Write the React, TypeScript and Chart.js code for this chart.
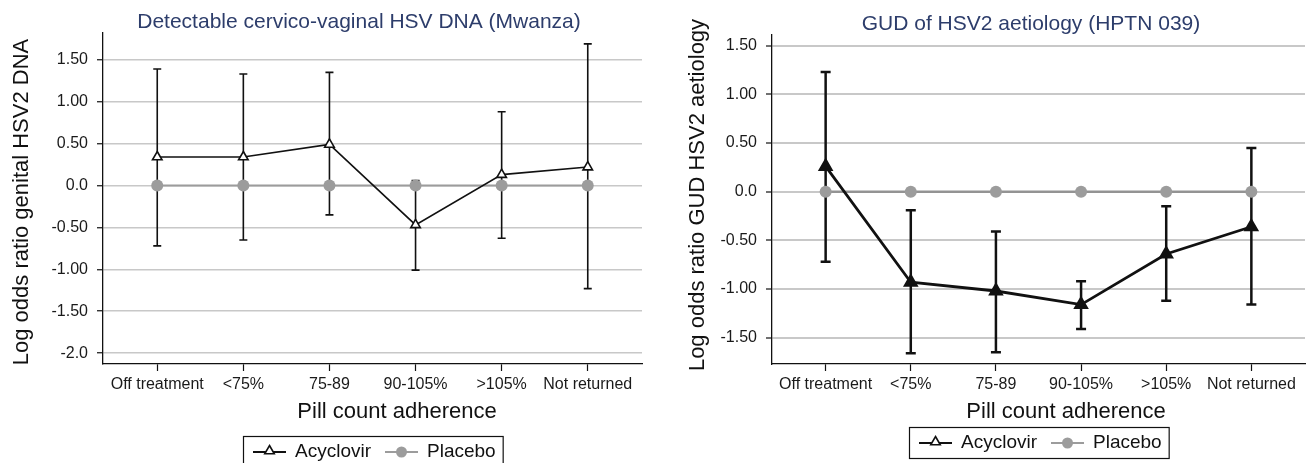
import { useEffect, useRef } from 'react';
import { Chart, registerables } from 'chart.js';

Chart.register(...registerables);

const FONT = '"Liberation Sans", Arial, Helvetica, sans-serif';

// ---- data ----
const categories = ['Off treatment', '<75%', '75-89', '90-105%', '>105%', 'Not returned'];
const seriesLabels = ['Acyclovir', 'Placebo'];

const leftTickValues = [1.5, 1, 0.5, 0, -0.5, -1, -1.5, -2];
const leftTickLabels = ['1.50', '1.00', '0.50', '0.0', '-0.50', '-1.00', '-1.50', '-2.0'];
const rightTickValues = [1.5, 1, 0.5, 0, -0.5, -1, -1.5];
const rightTickLabels = ['1.50', '1.00', '0.50', '0.0', '-0.50', '-1.00', '-1.50'];

const mwanzaAcyclovir = [0.34, 0.34, 0.49, -0.47, 0.13, 0.22];
const mwanzaLower = [-0.72, -0.65, -0.35, -1.01, -0.63, -1.23];
const mwanzaUpper = [1.39, 1.33, 1.35, 0.06, 0.88, 1.69];
const mwanzaPlacebo = [0, 0, 0, 0, 0, 0];

const hptnAcyclovir = [0.26, -0.93, -1.02, -1.16, -0.64, -0.36];
const hptnLower = [-0.72, -1.66, -1.65, -1.41, -1.12, -1.16];
const hptnUpper = [1.23, -0.19, -0.41, -0.92, -0.15, 0.45];
const hptnPlacebo = [0, 0, 0, 0, 0, 0];

type Cfg = {
  left: number; w: number; padTop: number; padRight: number; yAxisW: number;
  ymin: number; ymax: number; tickValues: number[]; tickLabels: string[];
  acyclovir: number[]; lower: number[]; upper: number[]; placebo: number[];
  title: string; titleX: number; titleY: number;
  yTitle: string; yTitleX: number; yTitleY: number;
  xTitle: string; xTitleX: number; xTitleY: number;
  legendTop: number;
  lineW: number; triR: number; triFill: string; triBW: number;
  barW: number; capHalf: number; placeboW: number; placeboColor: string; gridW: number;
};

const leftCfg: Cfg = {
  left: 0, w: 655, padTop: 33, padRight: 13, yAxisW: 103,
  ymin: -2.13, ymax: 1.82, tickValues: leftTickValues, tickLabels: leftTickLabels,
  acyclovir: mwanzaAcyclovir, lower: mwanzaLower, upper: mwanzaUpper, placebo: mwanzaPlacebo,
  title: 'Detectable cervico-vaginal HSV DNA (Mwanza)', titleX: 359, titleY: 28,
  yTitle: 'Log odds ratio genital HSV2 DNA', yTitleX: 22, yTitleY: 202,
  xTitle: 'Pill count adherence', xTitleX: 397, xTitleY: 418,
  legendTop: 436,
  lineW: 1.6, triR: 5.5, triFill: '#ffffff', triBW: 1.6,
  barW: 1.6, capHalf: 4, placeboW: 2, placeboColor: '#9c9c9c', gridW: 1.5,
};

const rightCfg: Cfg = {
  left: 655, w: 659, padTop: 35, padRight: 2, yAxisW: 117,
  ymin: -1.77, ymax: 1.61, tickValues: rightTickValues, tickLabels: rightTickLabels,
  acyclovir: hptnAcyclovir, lower: hptnLower, upper: hptnUpper, placebo: hptnPlacebo,
  title: 'GUD of HSV2 aetiology (HPTN 039)', titleX: 376, titleY: 30,
  yTitle: 'Log odds ratio GUD HSV2 aetiology', yTitleX: 43, yTitleY: 195,
  xTitle: 'Pill count adherence', xTitleX: 411, xTitleY: 418,
  legendTop: 427,
  lineW: 2.8, triR: 6.5, triFill: '#111111', triBW: 2.5,
  barW: 2.5, capHalf: 5, placeboW: 2.5, placeboColor: '#939393', gridW: 2,
};

function drawTriangle(ctx: CanvasRenderingContext2D, x: number, y: number, r: number, fill: string, lw: number) {
  ctx.beginPath();
  for (let k = 0; k < 3; k++) {
    const a = (k * 2 * Math.PI) / 3;
    const px = x + Math.sin(a) * r;
    const py = y - Math.cos(a) * r;
    if (k === 0) ctx.moveTo(px, py); else ctx.lineTo(px, py);
  }
  ctx.closePath();
  ctx.fillStyle = fill;
  ctx.fill();
  ctx.lineWidth = lw;
  ctx.strokeStyle = '#111';
  ctx.stroke();
}

function Panel({ cfg }: { cfg: Cfg }) {
  const ref = useRef<HTMLCanvasElement>(null);
  useEffect(() => {
    const decor = {
      id: 'decor',
      beforeDatasetsDraw(chart: any) {
        const ctx = chart.ctx as CanvasRenderingContext2D;
        const xs = chart.scales.x, ys = chart.scales.y;
        ctx.save();
        ctx.strokeStyle = '#111';
        ctx.lineWidth = cfg.barW;
        cfg.lower.forEach((lo, i) => {
          const x = xs.getPixelForValue(i);
          const yl = ys.getPixelForValue(lo);
          const yu = ys.getPixelForValue(cfg.upper[i]);
          ctx.beginPath();
          ctx.moveTo(x, yl); ctx.lineTo(x, yu);
          ctx.moveTo(x - cfg.capHalf, yl); ctx.lineTo(x + cfg.capHalf, yl);
          ctx.moveTo(x - cfg.capHalf, yu); ctx.lineTo(x + cfg.capHalf, yu);
          ctx.stroke();
        });
        ctx.restore();
      },
      afterDraw(chart: any) {
        const ctx = chart.ctx as CanvasRenderingContext2D;
        const area = chart.chartArea;
        ctx.save();
        // title
        ctx.fillStyle = '#2d3d6b';
        ctx.font = `21px ${FONT}`;
        ctx.textAlign = 'center';
        ctx.textBaseline = 'alphabetic';
        ctx.fillText(cfg.title, cfg.titleX, cfg.titleY);
        // x title
        ctx.fillStyle = '#111';
        ctx.font = `22px ${FONT}`;
        ctx.fillText(cfg.xTitle, cfg.xTitleX, cfg.xTitleY);
        // y title
        ctx.save();
        ctx.translate(cfg.yTitleX, cfg.yTitleY);
        ctx.rotate(-Math.PI / 2);
        ctx.textBaseline = 'middle';
        ctx.fillText(cfg.yTitle, 0, 0);
        ctx.restore();
        // legend
        ctx.font = `19px ${FONT}`;
        const labels = chart.data.datasets.map((d: any) => d.label as string);
        const symW = 33, padL = 10, gap = 9, itemGap = 14, padR = 7, boxH = 31;
        const tw = labels.map((l: string) => ctx.measureText(l).width);
        const total = padL + symW + gap + tw[0] + itemGap + symW + gap + tw[1] + padR;
        const cx = (area.left + area.right) / 2;
        const x0 = Math.round(cx - total / 2);
        const top = cfg.legendTop;
        ctx.strokeStyle = '#111';
        ctx.lineWidth = 1.2;
        ctx.strokeRect(x0 + 0.5, top + 0.5, total, boxH);
        const midY = top + 16;
        let x = x0 + padL;
        // item 1
        ctx.strokeStyle = '#111';
        ctx.lineWidth = 1.8;
        ctx.beginPath(); ctx.moveTo(x, midY); ctx.lineTo(x + symW, midY); ctx.stroke();
        drawTriangle(ctx, x + symW / 2, midY - 1, 5.5, '#ffffff', 1.6);
        x += symW + gap;
        ctx.fillStyle = '#111';
        ctx.textAlign = 'left';
        ctx.textBaseline = 'middle';
        ctx.fillText(labels[0], x, midY);
        x += tw[0] + itemGap;
        // item 2
        ctx.strokeStyle = '#9c9c9c';
        ctx.lineWidth = 2;
        ctx.beginPath(); ctx.moveTo(x, midY); ctx.lineTo(x + symW, midY); ctx.stroke();
        ctx.fillStyle = '#9c9c9c';
        ctx.beginPath(); ctx.arc(x + symW / 2, midY, 5.5, 0, Math.PI * 2); ctx.fill();
        x += symW + gap;
        ctx.fillStyle = '#111';
        ctx.fillText(labels[1], x, midY);
        ctx.restore();
      },
    };

    const chart = new Chart(ref.current as HTMLCanvasElement, {
      type: 'line',
      data: {
        datasets: [
          {
            label: seriesLabels[0],
            data: cfg.acyclovir.map((v, i) => ({ x: i, y: v })),
            borderColor: '#111',
            borderWidth: cfg.lineW,
            pointStyle: 'triangle',
            pointRadius: cfg.triR,
            pointBackgroundColor: cfg.triFill,
            pointBorderColor: '#111',
            pointBorderWidth: cfg.triBW,
            tension: 0,
          },
          {
            label: seriesLabels[1],
            data: cfg.placebo.map((v, i) => ({ x: i, y: v })),
            borderColor: cfg.placeboColor,
            borderWidth: cfg.placeboW,
            pointStyle: 'circle',
            pointRadius: 6,
            pointBackgroundColor: '#9c9c9c',
            pointBorderColor: '#9c9c9c',
            pointBorderWidth: 0,
            tension: 0,
          },
        ],
      },
      options: {
        responsive: false,
        animation: false,
        layout: { padding: { left: 0, right: cfg.padRight, top: cfg.padTop, bottom: 0 } },
        plugins: { legend: { display: false }, title: { display: false }, tooltip: { enabled: false } },
        scales: {
          x: {
            type: 'linear',
            min: -0.63,
            max: 5.63,
            afterBuildTicks: (s: any) => { s.ticks = categories.map((_, i) => ({ value: i })); },
            afterFit: (s: any) => { s.height = 99; },
            ticks: {
              callback: (_v: any, i: number) => categories[i],
              font: { family: FONT, size: 16 },
              color: '#1a1a1a',
              padding: 4,
              maxRotation: 0,
              autoSkip: false,
            },
            grid: { drawOnChartArea: false, tickLength: 7, tickColor: '#111', tickWidth: 1.2 },
            border: { color: '#111', width: 1.3 },
          },
          y: {
            type: 'linear',
            min: cfg.ymin,
            max: cfg.ymax,
            afterBuildTicks: (s: any) => { s.ticks = cfg.tickValues.map((v) => ({ value: v })); },
            afterFit: (s: any) => { s.width = cfg.yAxisW; },
            ticks: {
              callback: (_v: any, i: number) => cfg.tickLabels[i],
              font: { family: FONT, size: 16 },
              color: '#1a1a1a',
              padding: 9,
            },
            grid: { color: '#c8c8c8', lineWidth: cfg.gridW, tickLength: 6, tickColor: '#111', tickWidth: 1.2 },
            border: { color: '#111', width: 1.3 },
          },
        },
      } as any,
      plugins: [decor],
    });
    return () => chart.destroy();
  }, [cfg]);
  return (
    <canvas
      ref={ref}
      width={cfg.w}
      height={463}
      style={{ position: 'absolute', left: cfg.left, top: 0, width: cfg.w, height: 463 }}
    />
  );
}

export default function App() {
  return (
    <div style={{ position: 'absolute', left: 0, top: 0, width: 1314, height: 463, background: '#fff', overflow: 'hidden' }}>
      <Panel cfg={leftCfg} />
      <Panel cfg={rightCfg} />
    </div>
  );
}
